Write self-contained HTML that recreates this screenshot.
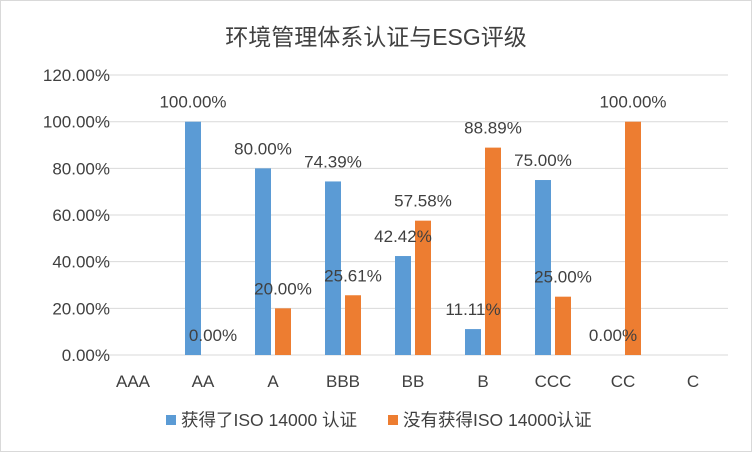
<!DOCTYPE html>
<html><head><meta charset="utf-8"><style>
body{margin:0;background:#fff}
svg text{font-family:"Liberation Sans","Noto Sans CJK SC",sans-serif;fill:#404040}
</style></head><body>
<svg width="752" height="452" viewBox="0 0 752 452">
<rect x="0.5" y="0.5" width="751" height="451" fill="#fff" stroke="#d9d9d9"/>
<text x="376" y="45" text-anchor="middle" font-size="23">环境管理体系认证与ESG评级</text>
<g id="grid"></g><g id="bars"></g><g id="labels"></g>
<g>
<rect x="166" y="415" width="10" height="10" fill="#5b9bd5"/>
<text x="181" y="426" font-size="17.5">获得了ISO 14000 认证</text>
<rect x="388" y="415" width="10" height="10" fill="#ed7d31"/>
<text x="403" y="426" font-size="17.5">没有获得ISO 14000认证</text>
</g>
</svg>
<script>
const categories=["AAA","AA","A","BBB","BB","B","CCC","CC","C"];
const withIso=[null,100,80,74.39,42.42,11.11,75,0,null];
const withoutIso=[null,0,20,25.61,57.58,88.89,25,100,null];
const yTicks=[0,20,40,60,80,100,120];
const NS="http://www.w3.org/2000/svg";
const y=v=>355-v*(233.3/100);
const xc=i=>133+70*i;
const grid=document.getElementById('grid'),bars=document.getElementById('bars'),labels=document.getElementById('labels');
function mk(tag,at,parent,txt){const e=document.createElementNS(NS,tag);for(const k in at)e.setAttribute(k,at[k]);if(txt!=null)e.textContent=txt;parent.appendChild(e);return e;}
yTicks.forEach(t=>{
 const l=mk('line',{x1:98,x2:728,y1:y(t),y2:y(t),stroke:'#d9d9d9'},grid);
 
 
 const tx=mk('text',{x:110,y:y(t)+6,'text-anchor':'end','font-size':17},grid,t.toFixed(2)+'%');
 
 
});
categories.forEach((c,i)=>{
 const tx=mk('text',{x:xc(i),y:387,'text-anchor':'middle','font-size':17},grid,c);
 
 
 [[withIso[i],'#5b9bd5',-18,'iso'],[withoutIso[i],'#ed7d31',2,'no-iso']].forEach(([v,col,off,nm])=>{
  if(v==null)return;
  const r=mk('rect',{x:xc(i)+off,y:y(v),width:16,height:355-y(v),fill:col},bars);
  
  
  const lb=mk('text',{x:xc(i)+off+8,y:y(v)-14,'text-anchor':'middle','font-size':17},labels,v.toFixed(2)+'%');
  
  
 });
});
</script>
</body></html>
